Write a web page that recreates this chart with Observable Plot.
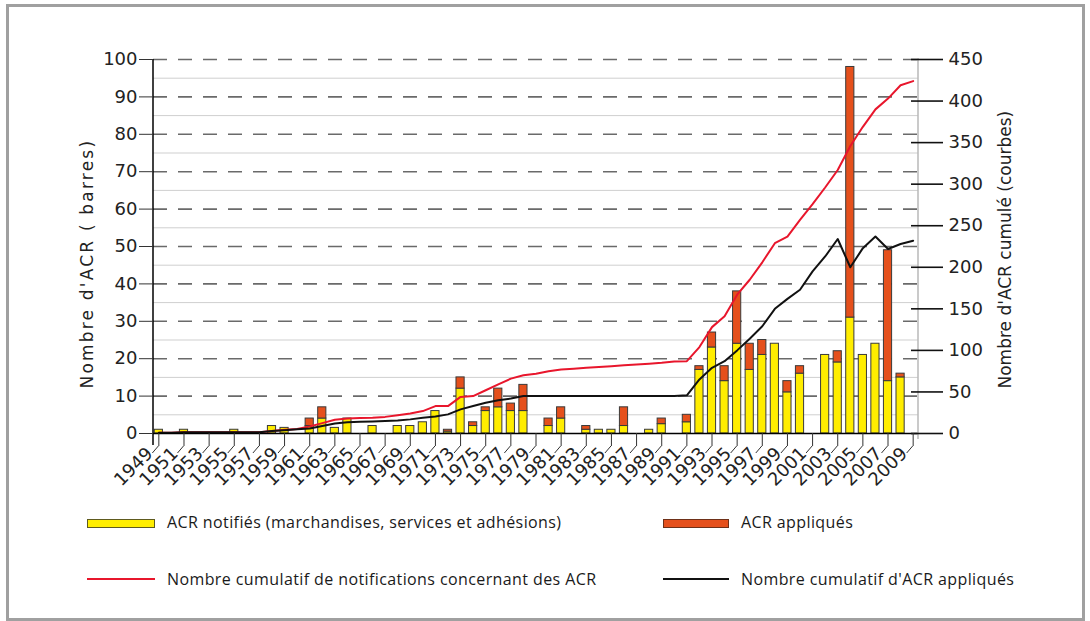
<!DOCTYPE html>
<html><head><meta charset="utf-8">
<script src="https://cdn.jsdelivr.net/npm/d3@7"></script>
<script src="https://cdn.jsdelivr.net/npm/@observablehq/plot@0.6"></script>
<style>
body{margin:0;background:#fff;width:1090px;height:621px;overflow:hidden;position:relative;}
#frame{position:absolute;left:6px;top:4px;width:1079px;height:617px;border:3px solid #a0a0a0;box-sizing:border-box;}
#chart{position:absolute;left:0;top:0;}
.lt{position:absolute;font-family:"Open Sans";font-size:16px;letter-spacing:0.4px;color:#1a1a1a;line-height:20px;white-space:nowrap;}
.sw{position:absolute;box-sizing:border-box;}
</style></head><body>
<div id="frame"></div>
<div id="chart"></div>
<div class="sw" style="left:87px;top:519px;width:68px;height:9px;background:#ffed00;border:1px solid #5e5a1e;"></div>
<div class="lt" style="left:167px;top:512px;">ACR notifiés (marchandises, services et adhésions)</div>
<div class="sw" style="left:663px;top:519px;width:66px;height:9px;background:#e5501c;border:1px solid #6e3018;"></div>
<div class="lt" style="left:741px;top:512px;">ACR appliqués</div>
<div class="sw" style="left:87px;top:578px;width:68px;height:2px;background:#e8162c;"></div>
<div class="lt" style="left:167px;top:569px;">Nombre cumulatif de notifications concernant des ACR</div>
<div class="sw" style="left:663px;top:578px;width:66px;height:2px;background:#111;"></div>
<div class="lt" style="left:741px;top:569px;">Nombre cumulatif d'ACR appliqués</div>
<script>
const years = [1949,1950,1951,1952,1953,1954,1955,1956,1957,1958,
  1959,1960,1961,1962,1963,1964,1965,1966,1967,1968,
  1969,1970,1971,1972,1973,1974,1975,1976,1977,1978,
  1979,1980,1981,1982,1983,1984,1985,1986,1987,1988,
  1989,1990,1991,1992,1993,1994,1995,1996,1997,1998,
  1999,2000,2001,2002,2003,2004,2005,2006,2007,2008,2009];
// ACR notifiés (barres, jaune)
const notified = [1,0,1,0,0,0,1,0,0,2,
  1.5,0,2,4,1.5,4,0,2,0,2,
  2,3,6,0.5,12,2,6,7,6,6,
  0,2,4,0,1,1,1,2,0,1,
  2.5,0,3,17,23,14,24,17,21,24,
  11,16,0,21,19,31,21,24,14,15,0];
// ACR appliqués (barres, orange, empilées)
const applied = [0,0,0,0,0,0,0,0,0,0,
  0,0,2,3,0,0,0,0,0,0,
  0,0,0,0.5,3,1,1,5,2,7,
  0,2,3,0,1,0,0,5,0,0,
  1.5,0,2,1,4,4,14,7,4,0,
  3,2,0,0,3,67,0,0,35,1,0];
// Nombre cumulatif de notifications (courbe rouge, axe de droite)
const cumNotified = [1,1,1.5,1.5,1.5,1.5,1.5,1.5,1.5,3,
  4.5,5.5,8.5,12.5,16.5,18,18.5,19,20,22,
  24,27,33,33,44,45,52,59,66,70,
  72,75,77,78,79,80,81,82,83,84,
  85,86.5,87,104,128,141,167,185,206,229,
  237,257,276,296,317,346,369,390,403,419,424];
// Nombre cumulatif d'ACR appliqués (courbe noire, axe de droite)
const cumApplied = [1,1,1.5,1.5,1.5,1.5,1.5,1.5,1.5,3,
  4,5,6,9,12,13.5,14,14.5,15,15.5,
  17,19,20.5,23,29,33,37,40,42,45,
  45,45,45,45,45,45,45,45,45,45,
  45,45,46,65,79,87,100,114,129,150,
  162,173,195,213,234,200,223,237,222,228,232];
const leftTicks = [0,10,20,30,40,50,60,70,80,90,100];
const minorGrid = [5,15,25,35,45,55,65,75,85,95];
const rightTicks = [0,50,100,150,200,250,300,350,400,450];
const tickYears = [1949,1951,1953,1955,1957,1959,1961,1963,1965,1967,1969,1971,1973,1975,1977,1979,1981,1983,1985,1987,1989,1991,1993,1995,1997,1999,2001,2003,2005,2007,2009];
const rightMax = 450, leftMax = 100;
const k = rightMax / leftMax;
const leftTitle = "Nombre d'ACR ( barres)";
const rightTitle = "Nombre d'ACR cumulé (courbes)";

const bars = [];
years.forEach((yr, i) => {
  if (notified[i] > 0) bars.push({year: yr, series: "notifiés", value: notified[i]});
  if (applied[i] > 0) bars.push({year: yr, series: "appliqués", value: applied[i]});
});
const lineRed = years.map((yr, i) => ({year: yr, v: cumNotified[i] / k}));
const lineBlack = years.map((yr, i) => ({year: yr, v: cumApplied[i] / k}));

function decorations(index, scales, values, dims) {
  const x = scales.x, y = scales.y;
  const bw = x.bandwidth ? x.bandwidth() : 0;
  const g = d3.create("svg:g");
  const left = dims.marginLeft, right = dims.width - dims.marginRight;
  const y0 = y(0), yTop = y(leftMax);
  g.append("line").attr("x1", right).attr("x2", right).attr("y1", yTop - 1).attr("y2", y0 + 6)
    .attr("stroke", "#b8b8b8").attr("stroke-width", 1.5);
  g.append("line").attr("x1", left).attr("x2", left).attr("y1", yTop).attr("y2", y0 + 12)
    .attr("stroke", "#000").attr("stroke-width", 1.5);
  for (const yr of tickYears) {
    const cx = x(yr) + bw / 2;
    g.append("line").attr("x1", cx).attr("y1", y0 + 13).attr("x2", cx - 6).attr("y2", y0 + 20)
      .attr("stroke", "#333").attr("stroke-width", 1);
  }
  return g.node();
}

const chart = Plot.plot({
  width: 1090,
  height: 500,
  marginLeft: 153,
  marginRight: 172,
  marginTop: 59,
  marginBottom: 67,
  style: {fontFamily: "DejaVu Sans", fontSize: "18px", color: "#222", background: "transparent", overflow: "visible"},
  x: {type: "band", domain: years, paddingInner: 0.35, paddingOuter: 0.1, label: null},
  y: {domain: [0, leftMax], label: null},
  color: {domain: ["notifiés", "appliqués"], range: ["#ffed00", "#e5501c"]},
  marks: [
    Plot.ruleY(minorGrid, {stroke: "#cfcfcf", strokeWidth: 1}),
    Plot.ruleY(leftTicks.filter(d => d > 0), {stroke: "#6a6a6a", strokeWidth: 1.6, strokeDasharray: "14,11"}),
    Plot.barY(bars, {x: "year", y: "value", fill: "series", stroke: "#3a3a3a", strokeWidth: 1}),
    Plot.lineY(lineRed, {x: "year", y: "v", stroke: "#e8162c", strokeWidth: 2}),
    Plot.lineY(lineBlack, {x: "year", y: "v", stroke: "#111", strokeWidth: 2}),
    Plot.ruleY([0], {stroke: "#000", strokeWidth: 1.5}),
    decorations,
    Plot.axisY(leftTicks, {anchor: "left", tickSize: 14, tickPadding: 2, fontSize: 18, label: null, stroke: "#333"}),
    Plot.axisY(rightTicks.map(v => v / k), {anchor: "right", tickSize: 32, dx: -8, tickPadding: 6, fontSize: 18, label: null,
      tickFormat: v => String(Math.round(v * k)), strokeWidth: 1.6, stroke: "#111"}),
    Plot.axisX(tickYears, {anchor: "bottom", tickSize: 13, tickFormat: () => "", label: null, stroke: "#333"}),
    Plot.axisX(tickYears, {anchor: "bottom", tickSize: 0, tickPadding: 0, tickRotate: -45, dx: -9, dy: 17, fontSize: 18, label: null,
      tickFormat: d => String(d)}),
    Plot.text([leftTitle], {frameAnchor: "bottom-left", dx: -61, dy: -45, rotate: -90, textAnchor: "start", fontSize: 17, fill: "#222",
      className: "ltitle"}),
    Plot.text([rightTitle], {frameAnchor: "bottom-right", dx: 92, dy: -45, rotate: -90, textAnchor: "start", fontSize: 17, fill: "#222"})
  ]
});
d3.select(chart).selectAll("text").filter(function() { return this.textContent === leftTitle; })
  .style("letter-spacing", "2.2px");
document.getElementById("chart").appendChild(chart);
</script>
</body></html>
